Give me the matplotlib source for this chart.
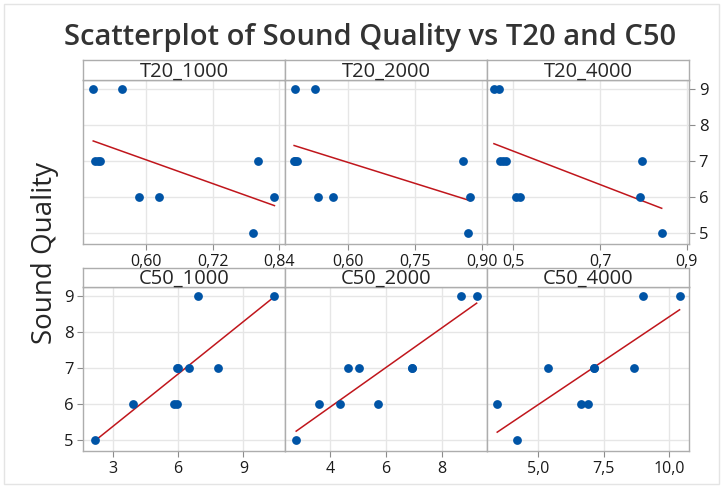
import numpy as np
import matplotlib.pyplot as plt
from matplotlib.patches import Rectangle

# Sound quality rating of each of the 10 observations
sound_quality = [9, 9, 7, 7, 7, 7, 6, 6, 6, 5]

# Predictors (same observation order as sound_quality)
t20_1000 = [0.505, 0.556, 0.509, 0.514, 0.518, 0.802, 0.587, 0.623, 0.831, 0.793]
t20_2000 = [0.480, 0.525, 0.478, 0.481, 0.484, 0.857, 0.531, 0.565, 0.874, 0.870]
t20_4000 = [0.455, 0.466, 0.469, 0.476, 0.482, 0.796, 0.506, 0.514, 0.792, 0.842]
c50_1000 = [6.92, 10.42, 5.97, 6.00, 6.50, 7.83, 3.92, 5.80, 5.94, 2.17]
c50_2000 = [8.69, 9.25, 4.66, 5.04, 6.94, 6.94, 3.61, 4.36, 5.73, 2.79]
c50_4000 = [9.00, 10.39, 5.36, 7.12, 7.12, 8.66, 3.43, 6.62, 6.89, 4.20]

panel_names = ["T20_1000", "T20_2000", "T20_4000", "C50_1000", "C50_2000", "C50_4000"]
panel_data = [t20_1000, t20_2000, t20_4000, c50_1000, c50_2000, c50_4000]

# x tick values and their (comma-decimal) labels per panel
x_ticks = [[0.60, 0.72, 0.84], [0.60, 0.75, 0.90], [0.5, 0.7, 0.9],
           [3, 6, 9], [4, 6, 8], [5.0, 7.5, 10.0]]
x_tick_labels = [["0,60", "0,72", "0,84"], ["0,60", "0,75", "0,90"], ["0,5", "0,7", "0,9"],
                 ["3", "6", "9"], ["4", "6", "8"], ["5,0", "7,5", "10,0"]]
x_limits = [(0.4866, 0.850), (0.4575, 0.912), (0.439, 0.905),
            (1.64, 10.91), (2.39, 9.62), (3.04, 10.75)]
y_ticks = [5, 6, 7, 8, 9]

plt.rcParams['font.family'] = ['Open Sans', 'DejaVu Sans']

W, H = 723, 488
fig = plt.figure(figsize=(W / 100, H / 100), dpi=100)
fig.patch.set_facecolor("white")


def px_box(x0, y0, x1, y1):
    # pixel box (top-left origin) -> figure fraction rect
    return [x0 / W, 1 - y1 / H, (x1 - x0) / W, (y1 - y0) / H]


fig.add_artist(Rectangle((4 / W, 4 / H), 715 / W, 480 / H, transform=fig.transFigure,
                         fill=False, edgecolor="#E4E4E4", lw=1))

cols = [(83, 285), (285, 487), (487, 689)]
rows = [(60, 80, 244), (268, 287, 451)]
frame = "#ADADAD"

for i, (name, xs) in enumerate(zip(panel_names, panel_data)):
    r, c = divmod(i, 3)
    x0, x1 = cols[c]
    h_top, p_top, p_bot = rows[r]

    ax = fig.add_axes(px_box(x0, p_top, x1, p_bot))
    ax.scatter(xs, sound_quality, s=40, color="#0054A6", zorder=3, linewidths=0)
    coef = np.polyfit(xs, sound_quality, 1)
    fit_x = np.array([min(xs), max(xs)])
    ax.plot(fit_x, np.polyval(coef, fit_x), color="#C0161C", lw=1.1, zorder=2)

    ax.set_xlim(*x_limits[i])
    ax.set_ylim(4.69, 9.25)
    ax.set_xticks(x_ticks[i])
    ax.set_xticklabels(x_tick_labels[i])
    ax.set_yticks(y_ticks)
    ax.grid(True, color="#E6E6E6", lw=1)
    ax.set_axisbelow(True)
    for sp in ax.spines.values():
        sp.set_color(frame)
        sp.set_linewidth(1)
    ax.tick_params(axis="x", length=4, color="#8C8C8C", labelsize=11.5,
                   labelcolor="#1A1A1A", pad=3)
    ax.tick_params(axis="y", length=4, color="#8C8C8C", labelsize=12,
                   labelcolor="#1A1A1A", pad=3)

    if r == 0 and c == 2:
        ax.yaxis.tick_right()
    elif r == 1 and c == 0:
        ax.yaxis.tick_left()
    else:
        ax.tick_params(axis="y", left=False, right=False, labelleft=False, labelright=False)

    hd = fig.add_axes(px_box(x0, h_top, x1, p_top))
    hd.set_xticks([])
    hd.set_yticks([])
    hd.set_facecolor("white")
    for sp in hd.spines.values():
        sp.set_color(frame)
        sp.set_linewidth(1)
    hd.text(0.5, 0.42, name, ha="center", va="center", fontsize=14.5,
            color="#262626", transform=hd.transAxes)

fig.text(370 / W, 1 - 37 / H, "Scatterplot of Sound Quality vs T20 and C50",
         ha="center", va="center", fontsize=21, fontweight="semibold", color="#333333")
fig.text(45 / W, 1 - 253 / H, "Sound Quality", rotation=90, ha="center", va="center",
         fontsize=20, fontweight="medium", color="#262626")

fig.savefig("out.png", dpi=100)
